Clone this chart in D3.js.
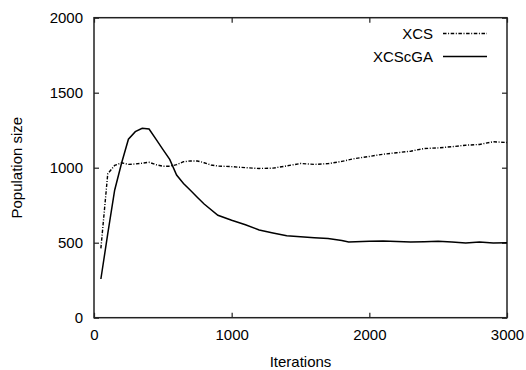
<!doctype html>
<html>
<head>
<meta charset="utf-8">
<title>Population size</title>
<script src="https://d3js.org/d3.v7.min.js"></script>
<style type="text/css">
	body { margin: 0; background: #fff; }
	text { font-family: "Liberation Sans", Arial, sans-serif; font-size: 15px; fill: #000; }
	.tick line { stroke: #222; stroke-width: 1.2; }
	.domain { display: none; }
</style>
</head>
<body>
<script>
	var w = 526;
	var h = 370;

	// iterations and population size
	var xcsIter = [50, 100, 150, 200, 250, 300, 350, 400, 450, 500, 550, 600, 650, 700, 750, 800, 850, 900,
		1000, 1100, 1200, 1300, 1400, 1500, 1600, 1700, 1800, 1900, 2000, 2100, 2200, 2300, 2400, 2500,
		2600, 2700, 2800, 2900, 3000];
	var xcsSize = [462, 960, 1015, 1033, 1022, 1025, 1030, 1036, 1020, 1010, 1010, 1020, 1040, 1045, 1045, 1033, 1018, 1011,
		1007, 1000, 995, 997, 1012, 1028, 1022, 1027, 1042, 1062, 1075, 1090, 1100, 1110, 1128, 1132,
		1140, 1150, 1155, 1173, 1168];

	var cgaIter = [50, 100, 150, 200, 250, 300, 350, 400, 450, 500, 550, 600, 650, 700, 750, 800, 900,
		1000, 1100, 1200, 1300, 1400, 1500, 1600, 1700, 1800, 1850, 1900, 2000, 2100, 2200, 2300, 2400,
		2500, 2600, 2700, 2800, 2900, 3000];
	var cgaSize = [258, 560, 850, 1030, 1190, 1240, 1263, 1258, 1190, 1122, 1055, 951, 895, 850, 803, 758, 683,
		650, 620, 585, 565, 547, 540, 533, 528, 515, 505, 507, 510, 512, 508, 505, 507,
		510, 505, 498, 504, 498, 500];

	var xTicks = [0, 1000, 2000, 3000];
	var yTicks = [0, 500, 1000, 1500, 2000];

	var plotL = 94, plotR = 507, plotT = 17.7, plotB = 317.7;

	var svg = d3.select("body")
				.append("svg")
				.attr("width", w)
				.attr("height", h);

	var xScale = d3.scaleLinear().domain([0, 3000]).range([plotL, plotR]);
	var yScale = d3.scaleLinear().domain([0, 2000]).range([plotB, plotT]);
	var fmt = d3.format("d");

	// axes, ticks point inward on all four sides
	svg.append("g")
		.attr("transform", "translate(0," + plotB + ")")
		.call(d3.axisBottom(xScale).tickValues(xTicks).tickSize(-5).tickPadding(12).tickFormat(fmt));
	svg.append("g")
		.attr("transform", "translate(0," + plotT + ")")
		.call(d3.axisTop(xScale).tickValues(xTicks).tickSize(-5).tickFormat(""));
	svg.append("g")
		.attr("transform", "translate(" + plotL + ",0)")
		.call(d3.axisLeft(yScale).tickValues(yTicks).tickSize(-5).tickPadding(11).tickFormat(fmt));
	svg.append("g")
		.attr("transform", "translate(" + plotR + ",0)")
		.call(d3.axisRight(yScale).tickValues(yTicks).tickSize(-5).tickFormat(""));

	svg.selectAll("g").attr("font-size", null).attr("font-family", null);

	svg.append("rect")
		.attr("x", plotL)
		.attr("y", plotT)
		.attr("width", plotR - plotL)
		.attr("height", plotB - plotT)
		.attr("fill", "none")
		.attr("stroke", "#222")
		.attr("stroke-width", 1.5);

	var line = d3.line()
				.x(function(d) { return xScale(d[0]); })
				.y(function(d) { return yScale(d[1]); });

	var xcs = d3.zip(xcsIter, xcsSize);
	var cga = d3.zip(cgaIter, cgaSize);

	svg.append("path")
		.datum(xcs)
		.attr("d", line)
		.attr("fill", "none")
		.attr("stroke", "#000")
		.attr("stroke-width", 1.4)
		.attr("stroke-dasharray", "3.5,1.6,1,1.6");

	svg.append("path")
		.datum(cga)
		.attr("d", line)
		.attr("fill", "none")
		.attr("stroke", "#000")
		.attr("stroke-width", 1.5);

	// legend
	var legend = [
		{name: "XCS", dash: "3.5,1.6,1,1.6"},
		{name: "XCScGA", dash: null}
	];
	var lg = svg.append("g").selectAll("g")
				.data(legend)
				.enter()
				.append("g")
				.attr("transform", function(d, i) { return "translate(0," + (33.5 + i * 23) + ")"; });
	lg.append("text")
		.attr("x", 433)
		.attr("y", 5)
		.attr("text-anchor", "end")
		.text(function(d) { return d.name; });
	lg.append("line")
		.attr("x1", 443)
		.attr("x2", 487)
		.attr("stroke", "#000")
		.attr("stroke-width", function(d) { return d.dash ? 1.4 : 1.5; })
		.attr("stroke-dasharray", function(d) { return d.dash; });

	// axis titles
	svg.append("text")
		.attr("x", (plotL + plotR) / 2)
		.attr("y", 366.5)
		.attr("text-anchor", "middle")
		.text("Iterations");

	svg.append("text")
		.attr("transform", "translate(22," + ((plotT + plotB) / 2) + ") rotate(-90)")
		.attr("text-anchor", "middle")
		.text("Population size");
</script>
</body>
</html>
